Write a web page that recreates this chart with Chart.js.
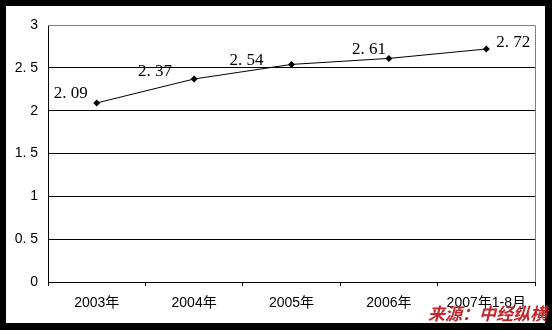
<!DOCTYPE html>
<html>
<head>
<meta charset="utf-8">
<script src="https://cdn.jsdelivr.net/npm/chart.js@4/dist/chart.umd.min.js"></script>
<style>
  html, body { margin: 0; padding: 0; background: #000; }
  #wrap { width: 552px; height: 330px; }
</style>
</head>
<body>
<div id="wrap"><canvas id="myChart" width="552" height="330"></canvas></div>
<script>
// data
var years = ['2003年', '2004年', '2005年', '2006年', '2007年1-8月'];
var values = [2.09, 2.37, 2.54, 2.61, 2.72];
var yTicks = [0, 0.5, 1, 1.5, 2, 2.5, 3];
var sourceText = '来源：中经纵横';

// where each value label sits relative to its point (dx, dy, align)
var labelPlace = [
    [-9, -9, 'right'],
    [-22, -7, 'right'],
    [-28, -4, 'right'],
    [-3, -9, 'right'],
    [10, -6, 'left']
];

function fmt(v) {
    return String(v).replace('.', '. ');
}

var framePlugin = {
    id: 'frame',
    beforeDraw: function(chart) {
        var ctx = chart.ctx;
        ctx.save();
        ctx.fillStyle = '#000';
        ctx.fillRect(0, 0, chart.width, chart.height);
        ctx.fillStyle = '#fff';
        ctx.fillRect(6, 6, 539, 317);
        ctx.restore();
    },
    afterDraw: function(chart) {
        var ctx = chart.ctx;
        var a = chart.chartArea;
        ctx.save();
        ctx.strokeStyle = '#808080';
        ctx.lineWidth = 1;
        ctx.beginPath();
        ctx.moveTo(a.left, a.top + 0.5);
        ctx.lineTo(Math.round(a.right) + 0.5, a.top + 0.5);
        ctx.lineTo(Math.round(a.right) + 0.5, a.bottom);
        ctx.stroke();

        // value labels
        var meta = chart.getDatasetMeta(0);
        ctx.fillStyle = '#000';
        ctx.font = '17px "Liberation Serif", serif';
        ctx.textBaseline = 'middle';
        meta.data.forEach(function(pt, i) {
            var p = labelPlace[i];
            ctx.textAlign = p[2];
            ctx.fillText(fmt(values[i]), pt.x + p[0], pt.y + p[1]);
        });

        // source note
        ctx.font = 'italic bold 17px "Noto Sans CJK SC", sans-serif';
        ctx.fillStyle = '#c0282d';
        ctx.textAlign = 'right';
        ctx.textBaseline = 'middle';
        ctx.fillText(sourceText, 547, 314);
        ctx.restore();
    }
};

var canvas = document.getElementById('myChart').getContext('2d');

var chart = new Chart(canvas, {
    type: 'line',
    data: {
        labels: years,
        datasets: [{
            data: values,
            borderColor: '#000',
            backgroundColor: '#000',
            borderWidth: 1,
            pointStyle: 'rectRot',
            pointRadius: 3.5,
            pointBackgroundColor: '#000',
            pointBorderColor: '#000',
            pointBorderWidth: 0,
            lineTension: 0
        }]
    },
    options: {
        responsive: false,
        animation: false,
        layout: { padding: { left: 0, top: 25, right: 17, bottom: 0 } },
        plugins: {
            legend: { display: false },
            tooltip: { enabled: false }
        },
        scales: {
            x: {
                offset: true,
                grid: {
                    offset: true,
                    drawOnChartArea: false,
                    drawTicks: true,
                    tickLength: 4,
                    color: '#000'
                },
                border: { color: '#000', width: 1 },
                ticks: {
                    color: '#000',
                    padding: 9,
                    maxRotation: 0,
                    autoSkip: false,
                    font: { family: '"Liberation Sans", "Noto Sans CJK SC", sans-serif', size: 14 }
                },
                afterFit: function(scale) { scale.height = 48; }
            },
            y: {
                min: 0,
                max: 3,
                afterBuildTicks: function(scale) {
                    scale.ticks = yTicks.map(function(v) { return { value: v }; });
                },
                grid: {
                    drawTicks: false,
                    color: function(c) { return c.tick && c.tick.value === 3 ? '#808080' : '#000'; }
                },
                border: { color: '#000', width: 1 },
                ticks: {
                    color: '#000',
                    padding: 10,
                    font: { family: '"Liberation Sans", sans-serif', size: 14 },
                    callback: function(v) { return fmt(v); }
                },
                afterFit: function(scale) { scale.width = 48; }
            }
        }
    },
    plugins: [framePlugin]
});
</script>
</body>
</html>
